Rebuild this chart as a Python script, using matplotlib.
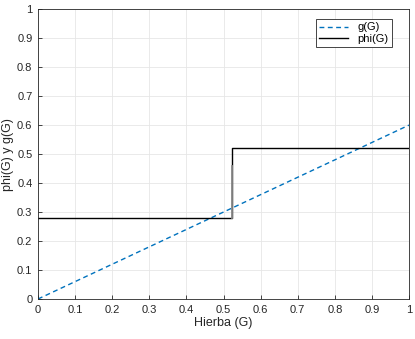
import matplotlib
matplotlib.use("Agg")
import matplotlib.pyplot as plt  # noqa: E402
import numpy as np  # noqa: E402

# data
g_x = [0.0, 1.0]
g_y = [0.0, 0.6]
phi_x = [0.0, 0.522, 0.522, 0.522, 1.0]
phi_y = [0.28, 0.28, 0.46, 0.52, 0.52]
ticks = np.round(np.arange(0, 1.01, 0.1), 1)
tick_labels = ["0", "0.1", "0.2", "0.3", "0.4", "0.5", "0.6", "0.7", "0.8", "0.9", "1"]

plt.rcParams.update({"font.family": "Liberation Sans", "font.size": 8})

fig = plt.figure(figsize=(4.15, 3.39), dpi=100)
ax = fig.add_axes([0.0916, 0.118, 0.894, 0.855])

ax.plot(g_x, g_y, color="#0072BD", lw=1.0, ls=(0, (3.5, 2.5)), label="g(G)")
ax.plot(phi_x, phi_y, color="black", lw=1.0, label="phi(G)")
ax.plot(phi_x[1:3], phi_y[1:3], color="#8a8a8a", lw=1.3)

ax.set_xlim(0, 1)
ax.set_ylim(0, 1)
ax.set_xticks(ticks)
ax.set_yticks(ticks)
ax.set_xticklabels(tick_labels)
ax.set_yticklabels(tick_labels)
ax.tick_params(direction="in", length=3, width=0.6, colors="#262626", labelsize=8, pad=4)
ax.grid(True, color="#e6e6e6", lw=0.6)
ax.set_axisbelow(True)
for s in ax.spines.values():
    s.set_color("#262626")
    s.set_linewidth(0.6)

ax.set_xlabel("Hierba (G)", fontsize=9, color="#262626", labelpad=2)
ax.set_ylabel("phi(G) y g(G)", fontsize=9, color="#262626", labelpad=2)

leg = ax.legend(loc="upper right", fontsize=8, fancybox=False, framealpha=1,
                edgecolor="#262626", handlelength=2.6, borderpad=0.3,
                labelspacing=0.15, bbox_to_anchor=(0.968, 0.985))
leg.get_frame().set_linewidth(0.6)

fig.savefig("out.png")
